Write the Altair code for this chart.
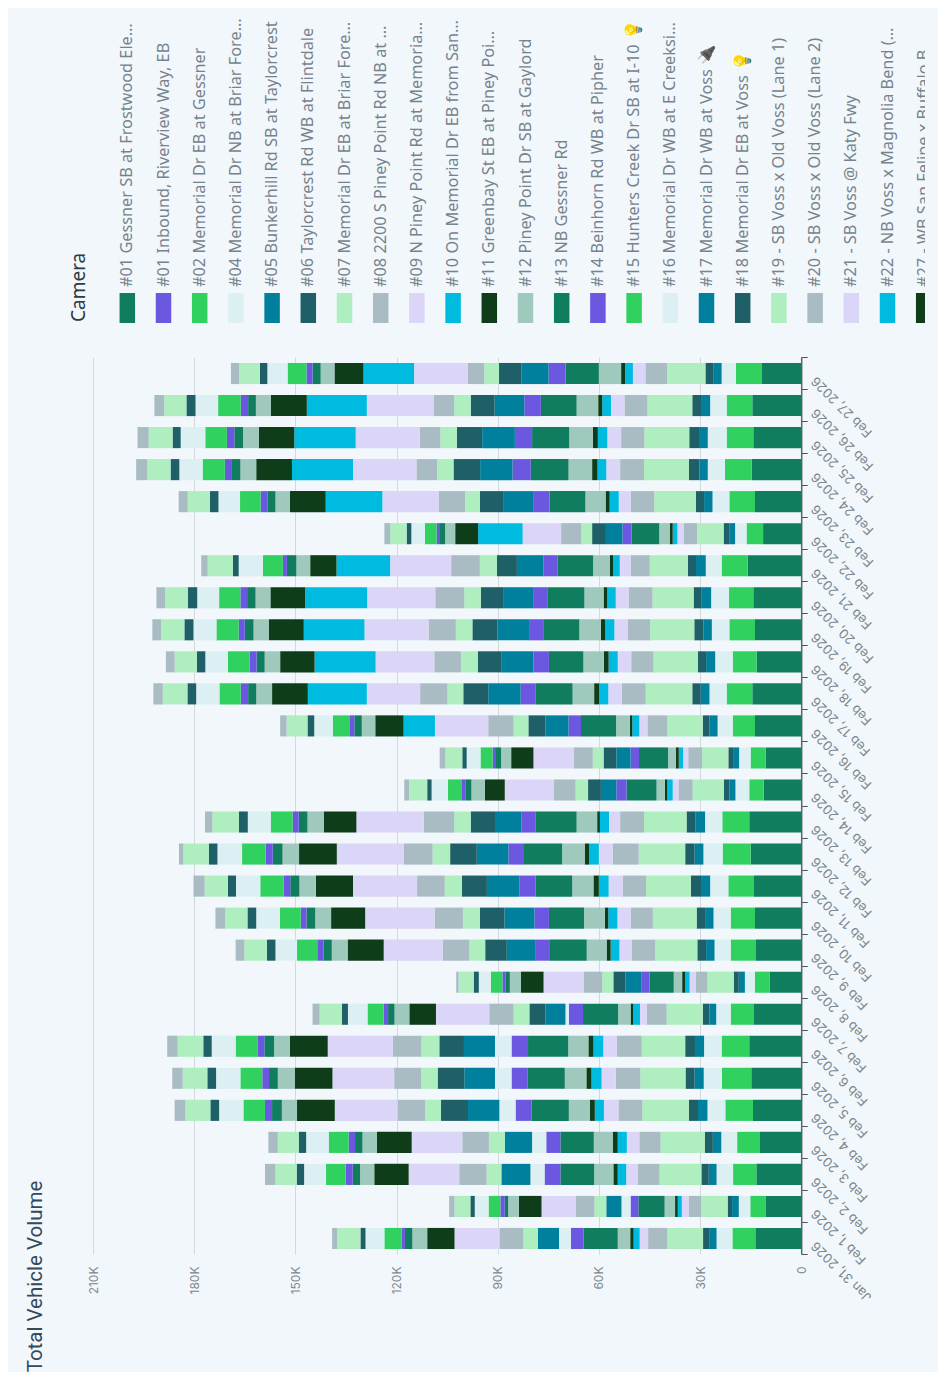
import altair as alt
import pandas as pd

BG = "#f2f7fb"

# Stack order, nearest zero first. The last ones are cut out of the reference legend, so their names are unknown.
cameras = ["#01", "#02", "#04", "#05", "#06", "#07", "#08", "#09", "#10", "#11", "#12", "#13", "#14", "#16",
           "#17", "#18", "#19", "#20", "#21", "#22", "#27", "c24", "c25", "c26", "c27", "c28", "c30", "c31", "c32"]
camera_colors = ["#0f7d5e", "#30d15f", "#dcf0f3", "#00809c", "#1f5f68", "#aeeebf", "#a9bcc4", "#dbd5f7", "#00bbe0",
                 "#0f3d1a", "#9fc9bd", "#0f7d5e", "#6b57e0", "#dcf0f3", "#00809c", "#1f5f68", "#aeeebf", "#a9bcc4",
                 "#dbd5f7", "#00bbe0", "#0f3d1a", "#9fc9bd", "#0f7d5e", "#6b57e0", "#30d15f", "#dcf0f3", "#1f5f68",
                 "#aeeebf", "#a9bcc4"]

legend_labels = ["#01 Gessner SB at Frostwood Ele…", "#01 Inbound, Riverview Way, EB", "#02 Memorial Dr EB at Gessner",
                 "#04 Memorial Dr NB at Briar Fore…", "#05 Bunkerhill Rd SB at Taylorcrest",
                 "#06 Taylorcrest Rd WB at Flintdale", "#07 Memorial Dr EB at Briar Fore…",
                 "#08 2200 S Piney Point Rd NB at …", "#09 N Piney Point Rd at Memoria…",
                 "#10 On Memorial Dr EB from San…", "#11 Greenbay St EB at Piney Poi…",
                 "#12 Piney Point Dr SB at Gaylord", "#13 NB Gessner Rd", "#14 Beinhorn Rd WB at Pipher",
                 "#15 Hunters Creek Dr SB at I-10 💡", "#16 Memorial Dr WB at E Creeksi…",
                 "#17 Memorial Dr WB at Voss 🔌", "#18 Memorial Dr EB at Voss 💡", "#19 - SB Voss x Old Voss (Lane 1)",
                 "#20 - SB Voss x Old Voss (Lane 2)", "#21 - SB Voss @ Katy Fwy", "#22 - NB Voss x Magnolia Bend (…",
                 "#27 - WB San Felipe x Buffalo B…"]
legend_colors = ["#0f7d5e", "#6b57e0", "#30d15f", "#dcf0f3", "#00809c", "#1f5f68", "#aeeebf", "#a9bcc4", "#dbd5f7",
                 "#00bbe0", "#0f3d1a", "#9fc9bd", "#0f7d5e", "#6b57e0", "#30d15f", "#dcf0f3", "#00809c", "#1f5f68",
                 "#aeeebf", "#a9bcc4", "#dbd5f7", "#00bbe0", "#0f3d1a"]

# Thousands of vehicles per camera, in the order of `cameras`.
jan_31 = [13.6, 6.8, 4.7, 2.2, 1.8, 10.6, 5.7, 2.5, 1.8, 1.0, 3.7, 10.1, 3.8, 3.5, 6.3, 0, 4.3, 7.1, 13.3, 0, 8.1, 4.4, 2.2, 1.0, 5.1, 5.6, 1.5, 6.9, 1.5]
feb_01 = [10.6, 4.5, 3.4, 2.0, 1.3, 7.9, 3.7, 2.0, 1.2, 0.8, 3.1, 7.8, 2.3, 2.7, 4.5, 0, 3.5, 5.6, 10.1, 0, 6.7, 3.2, 1.0, 1.3, 3.5, 4.1, 1.3, 4.7, 1.6]
feb_02 = [13.3, 6.9, 4.9, 2.3, 2.2, 12.4, 6.4, 3.5, 2.5, 1.3, 5.7, 10.0, 4.7, 4.2, 8.6, 0, 4.4, 8.1, 15.0, 0, 10.2, 4.2, 2.2, 2.1, 5.8, 6.5, 2.2, 6.3, 3.1]
feb_03 = [12.4, 6.6, 4.7, 2.5, 2.4, 13.1, 6.3, 3.7, 2.7, 1.5, 5.6, 9.9, 4.2, 4.2, 8.1, 0, 4.7, 7.9, 15.0, 0, 10.3, 4.3, 2.2, 1.9, 5.9, 6.7, 2.2, 6.2, 2.8]
feb_04 = [14.3, 8.2, 5.3, 2.8, 2.7, 13.8, 7.1, 4.3, 2.7, 1.5, 6.2, 11.0, 4.8, 4.8, 9.3, 8.0, 4.7, 8.2, 18.6, 0, 11.2, 4.5, 2.9, 2.1, 6.4, 7.2, 2.6, 7.4, 3.2]
feb_05 = [14.8, 8.7, 5.4, 2.7, 2.7, 13.4, 7.3, 4.2, 3.0, 1.5, 6.4, 11.1, 4.7, 4.9, 9.1, 7.9, 4.9, 8.0, 18.3, 0, 11.2, 5.0, 2.6, 2.0, 6.5, 7.2, 2.6, 7.3, 3.1]
feb_06 = [15.4, 8.2, 5.2, 2.7, 2.9, 12.9, 7.4, 4.0, 2.9, 1.5, 6.0, 11.9, 4.9, 4.9, 9.2, 7.3, 5.3, 8.5, 19.3, 0, 11.2, 4.7, 2.9, 1.9, 6.6, 7.1, 2.5, 7.6, 3.1]
feb_07 = [14.0, 6.9, 4.3, 2.0, 2.0, 10.7, 5.9, 2.0, 2.0, 0.8, 3.7, 10.4, 4.2, 1.0, 5.9, 4.8, 4.7, 7.2, 15.8, 0, 7.9, 4.4, 1.9, 1.3, 4.8, 5.8, 1.8, 6.6, 2.1]
feb_08 = [9.3, 4.4, 3.0, 1.8, 1.5, 7.8, 3.5, 1.8, 1.3, 0.9, 2.5, 7.2, 2.3, 0, 4.8, 3.6, 3.3, 5.5, 11.9, 0, 6.7, 3.3, 1.2, 1.0, 3.4, 3.6, 1.5, 4.5, 0.7]
feb_09 = [13.4, 7.5, 4.8, 2.5, 2.6, 12.5, 6.9, 3.7, 2.6, 1.2, 5.9, 10.9, 4.2, 0, 8.6, 6.4, 4.7, 7.9, 17.5, 0, 10.7, 4.7, 2.4, 1.9, 6.0, 6.4, 2.5, 6.7, 2.6]
feb_10 = [13.7, 7.2, 5.1, 2.5, 2.5, 13.0, 6.5, 4.0, 2.7, 1.0, 6.2, 10.4, 4.3, 0, 8.9, 7.3, 5.0, 8.4, 20.6, 0, 10.1, 4.7, 2.6, 1.7, 6.2, 7.0, 2.6, 6.6, 2.9]
feb_11 = [14.0, 7.6, 5.4, 2.7, 3.0, 13.3, 6.9, 4.2, 2.9, 1.6, 6.3, 10.9, 4.8, 0, 9.6, 7.4, 5.1, 8.2, 19.0, 0, 11.0, 4.9, 2.7, 2.0, 6.9, 7.2, 2.4, 6.9, 3.3]
feb_12 = [15.0, 8.3, 5.7, 2.6, 2.8, 13.8, 7.7, 4.1, 2.9, 1.3, 6.7, 11.3, 4.6, 0, 9.4, 7.9, 5.2, 8.6, 19.8, 0, 11.2, 4.9, 2.9, 2.1, 7.0, 7.3, 2.5, 7.6, 1.3]
feb_13 = [15.4, 8.0, 5.1, 2.8, 2.7, 12.6, 7.1, 3.3, 2.7, 0.8, 6.1, 12.1, 4.2, 0, 7.9, 7.2, 4.9, 9.0, 20.0, 0, 9.6, 4.9, 2.6, 1.8, 6.5, 6.8, 2.6, 7.9, 2.2]
feb_14 = [11.1, 4.3, 4.1, 1.8, 1.6, 9.3, 4.2, 1.7, 1.6, 0.7, 2.5, 8.9, 3.0, 0, 4.6, 3.8, 3.7, 6.4, 14.6, 0, 5.9, 4.0, 1.8, 1.0, 4.2, 4.8, 1.3, 5.4, 1.4]
feb_15 = [10.5, 4.5, 3.4, 1.8, 1.4, 7.8, 4.1, 1.5, 1.3, 0.9, 2.3, 8.6, 2.5, 0, 4.2, 3.8, 3.2, 5.7, 11.9, 0, 6.6, 3.0, 1.5, 1.0, 3.6, 4.1, 1.3, 5.0, 1.7]
feb_16 = [13.7, 6.6, 4.5, 2.4, 2.0, 10.5, 5.9, 2.4, 2.1, 0.7, 4.1, 10.4, 3.7, 0, 6.8, 5.1, 4.4, 7.5, 15.8, 9.3, 8.4, 4.0, 2.2, 1.3, 5.1, 5.5, 2.0, 6.2, 1.9]
feb_17 = [14.5, 7.6, 5.1, 2.6, 2.5, 13.8, 7.1, 4.0, 2.7, 1.5, 6.4, 10.9, 4.5, 0, 9.6, 7.4, 4.7, 8.1, 15.8, 17.5, 10.6, 4.7, 2.4, 2.2, 6.3, 6.9, 2.6, 7.3, 2.8]
feb_18 = [13.2, 7.1, 5.2, 2.7, 2.4, 13.2, 6.6, 4.0, 2.7, 1.4, 6.1, 10.2, 4.6, 0, 9.4, 7.1, 5.0, 7.9, 17.4, 18.1, 10.2, 4.6, 2.4, 2.1, 6.4, 6.7, 2.5, 6.6, 2.6]
feb_19 = [13.7, 7.6, 5.2, 2.5, 2.7, 13.1, 6.7, 3.9, 2.7, 1.3, 6.4, 10.7, 4.2, 0, 9.4, 7.4, 4.9, 8.1, 19.0, 18.0, 10.4, 4.5, 2.6, 1.8, 6.6, 6.8, 2.7, 6.9, 2.6]
feb_20 = [14.2, 7.2, 5.3, 2.8, 2.4, 12.2, 7.1, 3.8, 2.5, 1.1, 5.7, 11.0, 4.2, 0, 8.9, 6.6, 4.9, 8.6, 20.2, 18.4, 10.3, 4.4, 2.5, 2.0, 6.3, 6.5, 2.8, 6.7, 2.6]
feb_21 = [15.9, 7.7, 4.7, 2.9, 2.4, 11.3, 5.6, 3.3, 2.0, 0.9, 5.0, 10.6, 4.1, 0, 7.9, 5.9, 5.1, 8.5, 18.1, 15.9, 7.8, 4.1, 2.8, 1.2, 5.9, 7.2, 1.7, 7.5, 1.9]
feb_22 = [11.3, 4.9, 3.4, 1.6, 1.8, 7.9, 4.0, 1.8, 1.4, 0.8, 3.2, 8.2, 2.7, 0, 4.9, 4.1, 3.2, 6.0, 11.4, 13.2, 6.8, 3.0, 1.5, 1.0, 3.5, 4.0, 1.4, 4.9, 1.7]
feb_23 = [13.7, 7.6, 5.0, 2.5, 2.4, 12.4, 6.9, 3.6, 2.7, 1.2, 6.0, 10.6, 4.9, 0, 8.9, 6.9, 4.4, 7.7, 16.8, 16.8, 10.6, 4.3, 2.4, 2.0, 6.1, 6.4, 2.5, 6.6, 2.7]
feb_24 = [14.7, 7.9, 5.1, 2.5, 3.1, 13.3, 7.1, 4.1, 2.6, 1.6, 7.0, 11.2, 5.4, 0, 9.6, 7.9, 4.9, 6.1, 18.8, 18.1, 10.6, 4.7, 2.5, 2.1, 6.6, 6.9, 2.6, 6.9, 3.3]
feb_25 = [14.2, 7.9, 5.6, 2.6, 2.9, 13.3, 6.9, 4.1, 2.8, 1.5, 7.0, 11.0, 5.1, 0, 9.7, 7.5, 4.9, 6.1, 19.0, 18.2, 10.5, 4.7, 2.6, 2.2, 6.4, 7.3, 2.4, 7.1, 3.3]
feb_26 = [14.5, 7.6, 4.9, 2.7, 2.6, 13.3, 6.8, 4.0, 2.6, 1.2, 6.4, 10.6, 4.9, 0, 8.8, 7.1, 4.9, 6.1, 19.8, 17.8, 10.7, 4.4, 2.3, 2.2, 6.7, 6.7, 2.7, 6.6, 2.9]
feb_27 = [11.8, 7.6, 4.2, 2.5, 2.3, 11.4, 6.4, 3.7, 2.3, 1.2, 6.6, 9.9, 5.0, 0, 8.1, 6.6, 4.4, 4.8, 16.0, 15.0, 8.6, 4.1, 2.4, 1.8, 5.6, 6.0, 2.2, 6.2, 2.4]

days = [("2026-01-31", jan_31), ("2026-02-01", feb_01), ("2026-02-02", feb_02), ("2026-02-03", feb_03),
        ("2026-02-04", feb_04), ("2026-02-05", feb_05), ("2026-02-06", feb_06), ("2026-02-07", feb_07),
        ("2026-02-08", feb_08), ("2026-02-09", feb_09), ("2026-02-10", feb_10), ("2026-02-11", feb_11),
        ("2026-02-12", feb_12), ("2026-02-13", feb_13), ("2026-02-14", feb_14), ("2026-02-15", feb_15),
        ("2026-02-16", feb_16), ("2026-02-17", feb_17), ("2026-02-18", feb_18), ("2026-02-19", feb_19),
        ("2026-02-20", feb_20), ("2026-02-21", feb_21), ("2026-02-22", feb_22), ("2026-02-23", feb_23),
        ("2026-02-24", feb_24), ("2026-02-25", feb_25), ("2026-02-26", feb_26), ("2026-02-27", feb_27)]

rows = []
for day, vals in days:
    for i, (cam, v) in enumerate(zip(cameras, vals)):
        rows.append({"date": day + "T00:00:00", "camera": cam, "idx": i, "volume": v * 1000})
df = pd.DataFrame(rows)

DATE_EXPR = "timeFormat(datum.value,'%b %-d, %Y')=='Feb 28, 2026' ? '' : timeFormat(datum.value,'%b %-d, %Y')"

bars = alt.Chart(df).mark_bar(height=alt.RelativeBandSize(band=0.69)).encode(
    x=alt.X("sum(volume):Q", stack="zero",
            scale=alt.Scale(domain=[0, 210000], reverse=True, nice=False),
            axis=alt.Axis(title="Total Vehicle Volume", titleFont="Roboto", titleFontSize=20.5, titleFontWeight="normal",
                          titleColor="#34495a", titleAngle=270, titleX=-58, titleY=22, titleAlign="center",
                          titleBaseline="middle", values=[0, 30000, 60000, 90000, 120000, 150000, 180000, 210000],
                          labelExpr="datum.value==0 ? '0' : (datum.value/1000)+'K'", labelAngle=270,
                          labelAlign="right", labelBaseline="middle", labelPadding=12, labelFont="Inter",
                          labelFontSize=12, labelColor="#7c8790", domain=False, ticks=False, grid=True,
                          gridColor="#d3d8dc", gridWidth=1)),
    y=alt.Y("yearmonthdate(date):T",
            scale=alt.Scale(domain=[alt.DateTime(year=2026, month=1, date=31), alt.DateTime(year=2026, month=2, date=28)]),
            axis=alt.Axis(title=None, orient="right", tickCount={"interval": "day", "step": 1}, labelExpr=DATE_EXPR,
                          labelAngle=225, labelAlign="right", labelBaseline="middle", labelPadding=6, labelOffset=-11,
                          labelFont="Inter", labelFontSize=13, labelColor="#7c8790", labelOverlap=False,
                          labelFlush=False, labelBound=False, domainColor="#5c6670", domainWidth=1.5,
                          tickColor="#4a545e", tickSize=6, grid=False)),
    color=alt.Color("camera:N", scale=alt.Scale(domain=cameras, range=camera_colors), legend=None),
    order=alt.Order("idx:Q"),
).properties(width=708.2, height=897)

legend_df = pd.DataFrame({"label": legend_labels})
legend_x = alt.X("label:N", axis=None, scale=alt.Scale(type="point", domain=legend_labels, padding=0, range=[34.3, 830.7]))
swatches = alt.Chart(legend_df).mark_bar(width=15.5, clip=True).encode(
    x=legend_x, y=alt.value(285), y2=alt.value(315),
    color=alt.Color("label:N", scale=alt.Scale(domain=legend_labels, range=legend_colors), legend=None),
)
labels = alt.Chart(legend_df).mark_text(angle=270, align="left", baseline="middle", clip=True, font="Noto Sans",
                                        fontSize=16.3, color="#76838d").encode(
    x=legend_x, y=alt.value(279), text="label:N",
)
title = alt.Chart(pd.DataFrame({"t": ["Camera"]})).mark_text(angle=270, align="left", baseline="middle",
                                                             font="Noto Sans", fontSize=19, color="#2b3a45").encode(
    x=alt.value(-14), y=alt.value(314), text="t:N",
)
legend = alt.layer(swatches, labels, title).properties(width=832, height=332)

chart = alt.vconcat(legend, bars, spacing=17, bounds="flush").resolve_scale(
    x="independent", y="independent", color="independent"
).properties(
    background=BG, padding={"left": 17, "top": 0, "right": 13, "bottom": 0}
).configure_view(stroke=None)

chart.save("out.html", embed_options={"renderer": "svg", "actions": False})
